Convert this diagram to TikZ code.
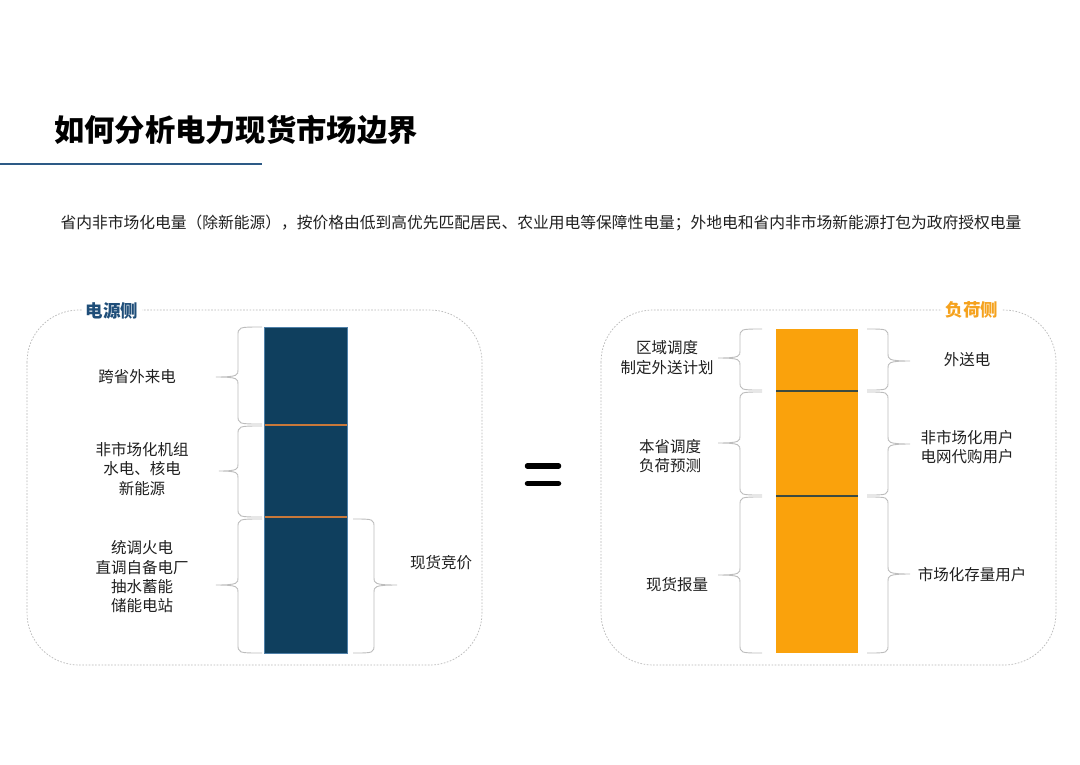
\documentclass[tikz,border=0pt]{standalone}
\usepackage{fontspec}
\setmainfont{Noto Sans CJK SC}
\definecolor{navy}{HTML}{0F3F5E}
\definecolor{navyedge}{HTML}{4F80A8}
\definecolor{copper}{HTML}{C8783A}
\definecolor{amber}{HTML}{FAA20C}
\definecolor{darksep}{HTML}{3C4A40}
\definecolor{titleblue}{HTML}{2D5A86}
\definecolor{labblue}{HTML}{1F4E79}
\definecolor{laborange}{HTML}{F5A21E}
\definecolor{bracegray}{HTML}{BDBDBD}
\definecolor{panelgray}{HTML}{B8B8B8}
\newcommand\mkbrace[6]{% xa xs xt y1 y2 ym
  \draw[brc] (#1,#4) .. controls (#2,#4) and (#2,#4) .. (#2,#4+9) -- (#2,#6-7)
    .. controls (#2,#6-2) and (#2,#6) .. (#3,#6)
    .. controls (#2,#6) and (#2,#6+2) .. (#2,#6+7) -- (#2,#5-9)
    .. controls (#2,#5) and (#2,#5) .. (#1,#5);}
\begin{document}
\begin{tikzpicture}[x=1pt,y=-1pt,
  brc/.style={draw=bracegray,line width=0.9pt},
  panel/.style={draw=panelgray,dash pattern=on 1.6pt off 1.6pt,line width=0.7pt,rounded corners=52pt},
  lab/.style={align=center,font=\fontsize{15.5}{19.3}\selectfont,text=black!88,inner sep=0pt},
  side/.style={font=\fontsize{17.5}{20}\selectfont\bfseries,fill=white,inner xsep=4pt,inner ysep=1pt}]
\useasboundingbox[fill=white] (0,0) rectangle (1080,764);
% title
\node[anchor=west,font=\fontsize{30.3}{34}\selectfont\bfseries,inner sep=0pt] (title) at (54,130) {如何分析电力现货市场边界};
\draw[titleblue,line width=2pt] (0,164) coordinate (ul1) -- (262,164) coordinate (ul2);
\node[font=\fontsize{15.75}{19}\selectfont,text=black!88,inner sep=0pt] (sub) at (541,223) {省内非市场化电量（除新能源），按价格由低到高优先匹配居民、农业用电等保障性电量；外地电和省内非市场新能源打包为政府授权电量};
% panels
\draw[panel] (27,310) rectangle (482,665);
\draw[panel] (601,310) rectangle (1056,665);
\node[side,text=labblue] (lside) at (112,311) {电源侧};
\node[side,text=laborange] (rside) at (972,310) {负荷侧};
% left bar
\draw[fill=navy,draw=navyedge,line width=0.6pt] (264,327) rectangle (347,653);
\draw[copper,line width=1.6pt] (264.5,425) -- (346.5,425);
\draw[copper,line width=1.6pt] (264.5,517) -- (346.5,517);
% right bar
\fill[amber] (776,329) rectangle (858,653);
\draw[darksep,line width=1.6pt] (776,391) -- (858,391);
\draw[darksep,line width=1.6pt] (776,496) -- (858,496);
% left braces
\mkbrace{262}{238}{216}{327}{424}{377}
\mkbrace{262}{238}{219}{426}{517}{471}
\mkbrace{262}{238}{216}{519}{653}{585}
\mkbrace{353}{374}{397}{519}{653}{585}
% right braces
\mkbrace{762}{740}{718}{329}{390}{358}
\mkbrace{762}{740}{718}{392}{495}{443}
\mkbrace{762}{740}{718}{497}{653}{575}
\mkbrace{867}{888}{910}{329}{390}{361}
\mkbrace{867}{888}{910}{392}{495}{444}
\mkbrace{867}{888}{910}{497}{653}{574}
% left labels
\node[lab] (l1) at (137,377) {跨省外来电};
\node[lab] (l2) at (142,469) {非市场化机组\\水电、核电\\新能源};
\node[lab] (l3) at (142,577) {统调火电\\直调自备电厂\\抽水蓄能\\储能电站};
\node[lab] (l4) at (441,563) {现货竞价};
% right labels
\node[lab] (r1) at (667,357.5) {区域调度\\制定外送计划};
\node[lab] (r2) at (670,456) {本省调度\\负荷预测};
\node[lab] (r3) at (677,585) {现货报量};
\node[lab] (r4) at (967,360) {外送电};
\node[lab] (r5) at (967,447) {非市场化用户\\电网代购用户};
\node[lab] (r6) at (972,575) {市场化存量用户};
% equals
\draw[line width=5.5pt,line cap=round] (527.5,466) coordinate (e1) -- (558.5,466) coordinate (e2);
\draw[line width=5.5pt,line cap=round] (527.5,483.5) coordinate (e3) -- (558.5,483.5) coordinate (e4);
\end{tikzpicture}
\end{document}
